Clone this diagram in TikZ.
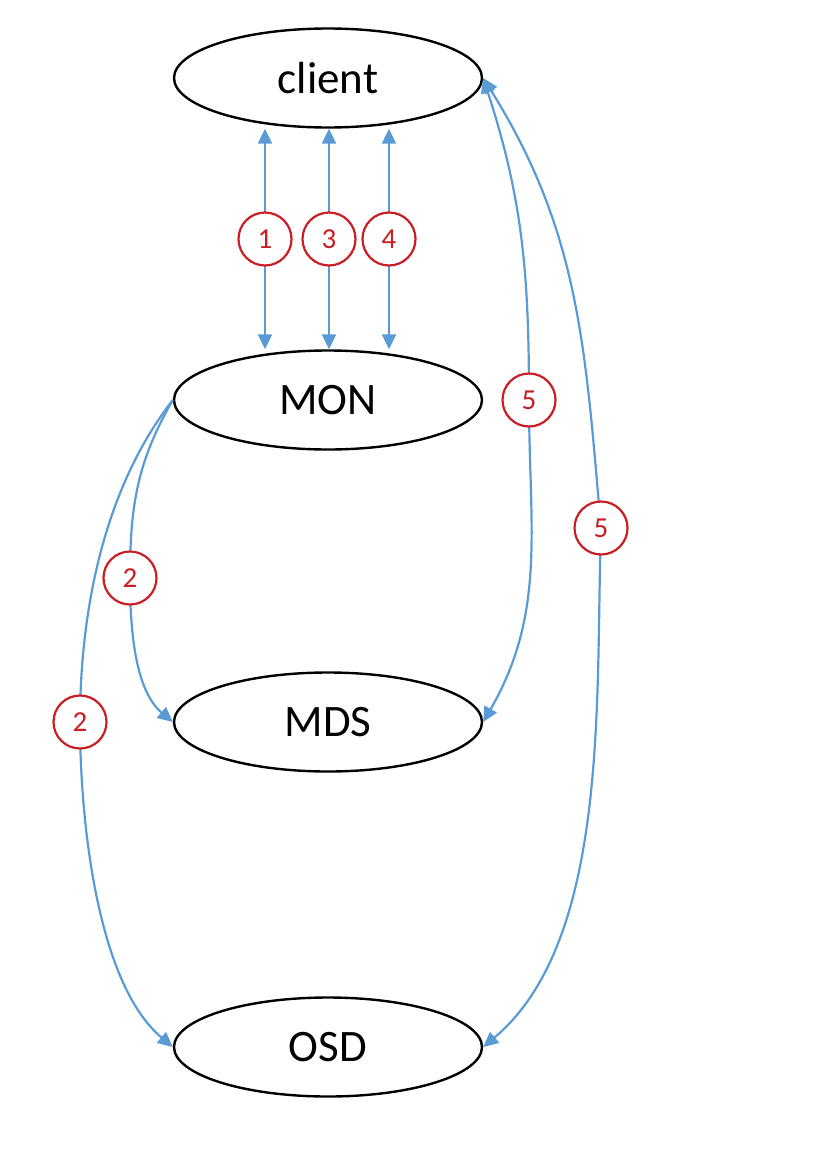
\documentclass[tikz,border=0pt]{standalone}
\usepackage{fontspec}
\setmainfont{Carlito}
\usetikzlibrary{shapes.geometric,arrows.meta}
\definecolor{lineblue}{HTML}{5B9BD5}
\definecolor{numred}{HTML}{C81E24}
\begin{document}
\begin{tikzpicture}[x=1pt,y=1pt,
  >={Triangle[length=15pt,width=14pt]},
  ent/.style={ellipse, draw=black, line width=2.4pt, minimum width=308pt, minimum height=99pt, inner sep=0pt, font=\fontsize{45}{54}\selectfont},
  num/.style={circle, draw=numred, line width=2.2pt, fill=white, minimum size=53pt, inner sep=0pt, text=numred, font=\fontsize{29}{35}\selectfont},
  flow/.style={draw=lineblue, line width=2.2pt},
  ]
\useasboundingbox (0,0) rectangle (838,-1154);
\node[ent] (client) at (328,-78) {client};
\node[ent] (MON) at (328,-400) {MON};
\node[ent] (MDS) at (328,-722) {MDS};
\node[ent] (OSD) at (328,-1047) {OSD};
% vertical exchanges client <-> MON
\draw[flow,<->] ([xshift=-63pt]client.south) -- node[num] (n1) {1} ([xshift=-63pt]MON.north);
\draw[flow,<->] ([xshift=1pt]client.south) -- node[num] (n3) {3} ([xshift=1pt]MON.north);
\draw[flow,<->] ([xshift=61pt]client.south) -- node[num] (n4) {4} ([xshift=61pt]MON.north);
% MON -> MDS / OSD
\coordinate (c2a) at (130,-578);
\coordinate (c2b) at (80,-722);
\draw[flow,->] (MON.west) to[out=240,in=90] (c2a) to[out=-90,in=140,looseness=0.85] (MDS.west);
\draw[flow,->] (MON.west) to[out=232,in=90,looseness=0.85] (c2b) to[out=-90,in=140,looseness=0.75] (OSD.west);
\node[num] (n2a) at (c2a) {2};
\node[num] (n2b) at (c2b) {2};
% client <-> MDS / OSD
\coordinate (c5a) at (529,-400);
\coordinate (c5b) at (601,-528);
\draw[flow,<->] (client.east) to[out=-72,in=90] (c5a) to[out=-90,in=60] (MDS.east);
\draw[flow,<->] (client.east) to[out=-58,in=95] (c5b) to[out=-92,in=40,looseness=0.8] (OSD.east);
\node[num] (n5a) at (c5a) {5};
\node[num] (n5b) at (c5b) {5};
\end{tikzpicture}
\end{document}
